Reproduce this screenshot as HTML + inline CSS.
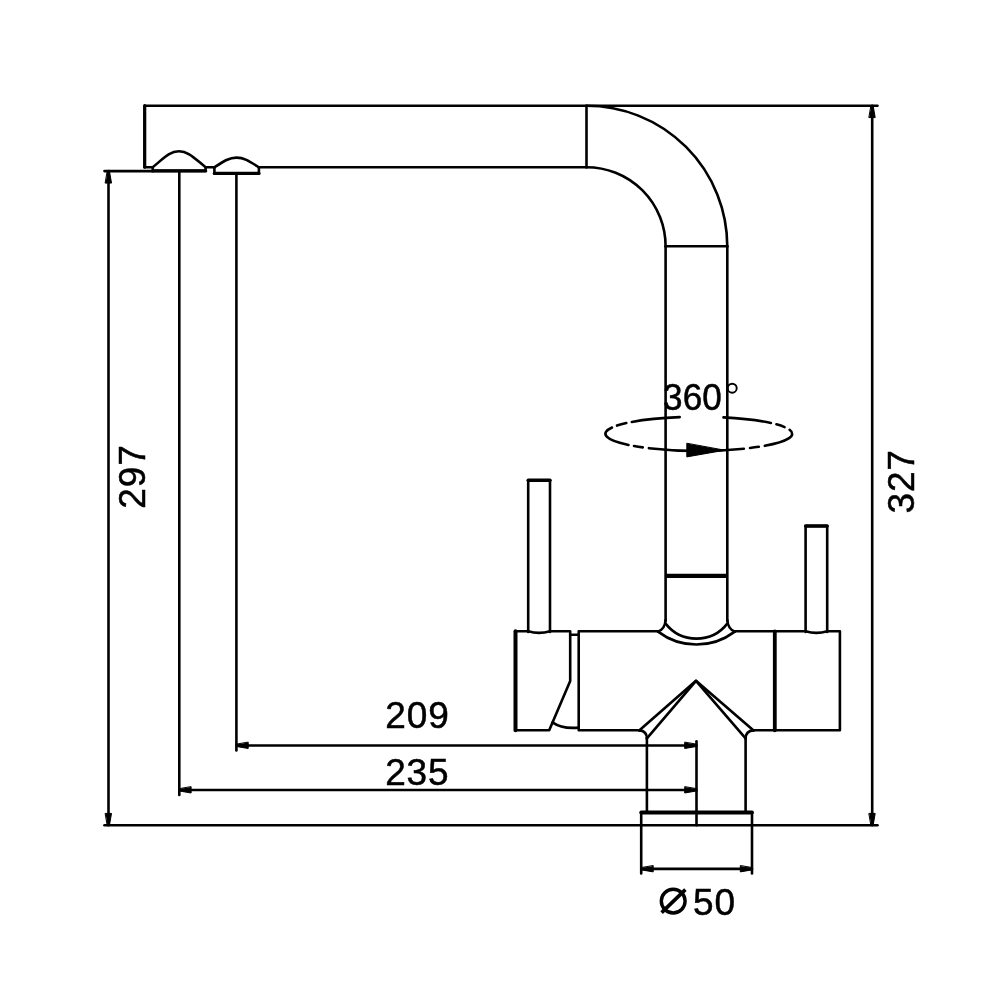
<!DOCTYPE html>
<html><head><meta charset="utf-8"><style>
html,body{margin:0;padding:0;background:#fff;}
body{width:1000px;height:1000px;overflow:hidden;}
svg{display:block;will-change:transform;}
g.d{fill:none;stroke:#000;stroke-width:2.6;stroke-linecap:round;stroke-linejoin:round;}
.ah{fill:#000;stroke:#000;stroke-width:1;stroke-linejoin:round;}
g.t text{font-family:"Liberation Sans",sans-serif;fill:#000;stroke:#000;stroke-width:0.5;font-size:37px;}
</style></head><body>
<svg width="1000" height="1000" viewBox="0 0 1000 1000">
<g class="d">
<path d="M877.5 105.7 H144.7 V167.2 H152.75"/>
<path d="M144.7 105.7 V167.2" stroke-width="3.2"/>
<path d="M152.75 167.2 V170.9 H205.6 V167.2"/>
<path d="M205.6 170.9 H152.75" stroke-width="3.4"/>
<path d="M152.75 167.2 C163 159, 169 151.3, 179 151.3 C189 151.3, 195 159, 205.6 167.2"/>
<path d="M205.6 167.3 H214.4"/>
<path d="M214.4 167.3 V173.4 H258.9 V167.3"/>
<path d="M258.9 173.4 H214.4" stroke-width="3.4"/>
<path d="M214.4 167.3 C224 161, 229 157.6, 236.6 157.6 C244 157.6, 249 161, 258.9 167.3"/>
<path d="M258.9 167.3 H586.5"/>
<path d="M586.5 105.7 V167.2"/>
<path d="M586.5 105.7 A140.8 140.8 0 0 1 727.3 246.5"/>
<path d="M586.5 167.2 A79.1 79.1 0 0 1 665.6 246.5"/>
<path d="M665.6 246.3 H727.3"/>
<path d="M665.6 246.5 V621"/>
<path d="M727.3 246.5 V621"/>
<path d="M665.6 575.9 H727.3" stroke-width="4.4" stroke-linecap="butt"/>
<path d="M665.6 623.6 A39.2 39.2 0 0 0 727.3 623.6"/>
<path d="M658 631.6 A63.6 63.6 0 0 0 734.8 631.6"/>
<path d="M665.6 620 Q 665 629, 658 631.6"/>
<path d="M727.3 620 Q 728 629, 734.8 631.6"/>
<path d="M515.5 730.3 V631.3 H528.2 Q 539 634.5, 550 631.3 H570.2 V680.9 L549.2 730.3 H515.5 Z"/>
<path d="M515.5 631.3 V730.3" stroke-width="4"/>
<path d="M570.2 634.8 H578.7"/>
<path d="M552.5 722.4 Q 562 729.2, 578.7 727.6"/>
<path d="M658 631.3 H578.7 V730.3 H639.2"/>
<path d="M734.8 631.3 H805.6 Q 816.4 634.5, 827.2 631.3 H839.9 V730.3 H753.6"/>
<path d="M774.8 631.5 V730.3" stroke-width="3.8"/>
<path d="M528.2 632 V480.3 H550 V632"/>
<path d="M528.2 480.3 H550" stroke-width="3.4"/>
<path d="M805.6 632 V526 H827.2 V632"/>
<path d="M805.6 526 H827.2" stroke-width="3.4"/>
<path d="M639.2 730.4 L696 680.8 L753.6 730.4"/>
<path d="M646.9 738.4 L696 680.8 L745.6 738.4"/>
<path d="M639.2 730.4 Q 646.9 731, 646.9 738.4"/>
<path d="M753.6 730.4 Q 745.6 731, 745.6 738.4"/>
<path d="M646.9 738 V812.5"/>
<path d="M745.6 738 V812.5"/>
<path d="M641.2 873.4 V812.6 H752 V873.4"/>
<path d="M641.2 812.5 H752" stroke-width="3.8"/>
<path d="M872.2 105.7 V825.3"/>
<path d="M104.5 825.3 H877.5"/>
<polygon class="ah" points="871.20,106.00 873.20,106.00 875.20,117.60 869.20,117.60"/>
<polygon class="ah" points="871.20,825.00 873.20,825.00 875.20,813.40 869.20,813.40"/>
<path d="M108.5 171.1 V825.3"/>
<path d="M104.5 171.1 H152.75"/>
<polygon class="ah" points="107.50,171.50 109.50,171.50 111.50,183.10 105.50,183.10"/>
<polygon class="ah" points="107.50,825.00 109.50,825.00 111.50,813.40 105.50,813.40"/>
<path d="M236.4 173.4 V750.4"/>
<path d="M236.4 745.5 H696.5"/>
<polygon class="ah" points="236.60,744.50 236.60,746.50 248.20,748.50 248.20,742.50"/>
<polygon class="ah" points="696.30,744.50 696.30,746.50 684.70,748.50 684.70,742.50"/>
<path d="M696.5 741.3 V825.3"/>
<path d="M179.3 171 V795"/>
<path d="M179.3 790 H696.5"/>
<polygon class="ah" points="179.50,789.00 179.50,791.00 191.10,793.00 191.10,787.00"/>
<polygon class="ah" points="696.30,789.00 696.30,791.00 684.70,793.00 684.70,787.00"/>
<path d="M641.5 868.9 H752"/>
<polygon class="ah" points="641.60,867.90 641.60,869.90 653.20,871.90 653.20,865.90"/>
<polygon class="ah" points="751.90,867.90 751.90,869.90 740.30,871.90 740.30,865.90"/>
<path d="M679.70 417.16 A93.40 17.00 0 0 0 631.80 421.96"/>
<path d="M626.30 423.08 A93.40 17.00 0 0 0 617.00 425.59"/>
<path d="M612.00 427.52 A93.40 17.00 0 0 0 628.50 444.99"/>
<path d="M634.00 446.04 A93.40 17.00 0 0 0 642.80 447.41"/>
<path d="M648.90 448.17 A93.40 17.00 0 0 0 743.90 448.69"/>
<path d="M750.00 448.02 A93.40 17.00 0 0 0 758.80 446.83"/>
<path d="M764.80 445.83 A93.40 17.00 0 0 0 789.60 429.82"/>
<path d="M784.60 427.08 A93.40 17.00 0 0 0 776.40 424.34"/>
<path d="M770.90 422.99 A93.40 17.00 0 0 0 723.50 417.41"/>
<polygon class="ah" points="686.8,443.6 686.8,456.9 724.5,450.3"/>
</g>
<g class="t">
<text x="385.2" y="727.5" letter-spacing="0.9">209</text>
<text x="385.2" y="784.6" letter-spacing="0.85">235</text>
<text transform="translate(662.9 409.6) scale(0.95 1)" letter-spacing="0.2">360</text>
<text transform="translate(144.6 508.8) rotate(-90)" letter-spacing="1.0">297</text>
<text transform="translate(914.2 513.55) rotate(-90)" letter-spacing="0.85">327</text>
<text x="693" y="914.5" letter-spacing="0.85">50</text>
</g>
<g class="d">
<circle cx="732.2" cy="388.2" r="4.5" style="stroke-width:1.9"/>
<circle cx="673.2" cy="901.1" r="11.9" style="stroke-width:3.4"/>
<path d="M661.6 912.6 L685.4 889.6" style="stroke-width:3.6;stroke-linecap:butt"/>
</g>
</svg>
</body></html>
